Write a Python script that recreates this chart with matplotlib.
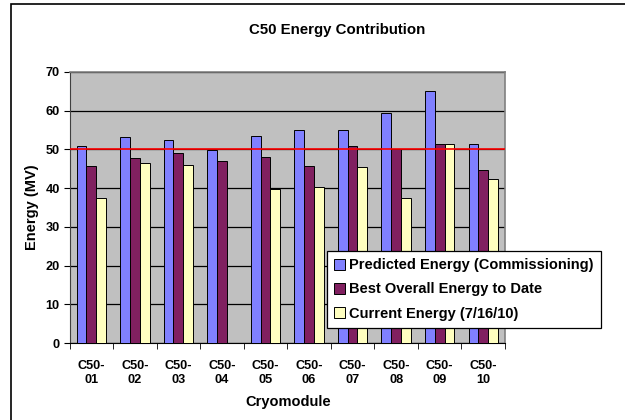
import numpy as np
import matplotlib
matplotlib.use("Agg")
import matplotlib.pyplot as plt
from matplotlib.patches import Rectangle

# Values
modules = ["C50-\n01", "C50-\n02", "C50-\n03", "C50-\n04", "C50-\n05",
           "C50-\n06", "C50-\n07", "C50-\n08", "C50-\n09", "C50-\n10"]
predicted = [51.0, 53.2, 52.4, 49.8, 53.5, 55.0, 55.0, 59.3, 65.2, 51.5]
best = [45.8, 47.9, 49.0, 46.9, 48.0, 45.7, 51.0, 50.0, 51.5, 44.6]
current = [37.5, 46.6, 46.1, 0.0, 39.7, 40.4, 45.4, 37.5, 51.5, 42.4]
series_names = ["Predicted Energy (Commissioning)",
                "Best Overall Energy to Date",
                "Current Energy (7/16/10)"]
target = 50

plt.rcParams['font.family'] = ['Liberation Sans', 'DejaVu Sans']
plt.rcParams['font.weight'] = 'bold'

fig = plt.figure(figsize=(6.25, 4.2), dpi=100)
ax = fig.add_axes([69.5 / 625, 1 - 343 / 420, 435.5 / 625, 271 / 420])
ax.set_facecolor('#C0C0C0')

x = np.arange(len(modules))
w = 0.225
colors = ['#8080FF', '#802060', '#FFFFC0']
for i, (vals, col, name) in enumerate(zip([predicted, best, current], colors, series_names)):
    ax.bar(x + (i - 1) * w, vals, width=w, color=col, edgecolor='black',
           linewidth=0.7, label=name, zorder=3)

ax.axhline(target, color='#FF0000', linewidth=1.2, zorder=4)

ax.set_xlim(-0.5, len(modules) - 0.5)
ax.set_ylim(0, 70)
ax.set_yticks(range(0, 71, 10))
ax.yaxis.grid(True, color='black', linewidth=0.9, zorder=1)
ax.set_axisbelow(True)

ax.set_xticks(x)
ax.set_xticklabels(modules, fontsize=9.2, fontweight='bold', linespacing=1.25)
ax.set_xticks(np.arange(-0.5, len(modules)), minor=True)
ax.tick_params(axis='x', which='major', length=0, pad=12)
ax.tick_params(axis='x', which='minor', length=4, color='black', direction='out')
ax.tick_params(axis='y', labelsize=9.2, length=4, color='black', pad=3)
for lab in ax.get_yticklabels():
    lab.set_fontweight('bold')

for side in ['top', 'right']:
    ax.spines[side].set_color('#808080')
    ax.spines[side].set_linewidth(1.2)
ax.spines['left'].set_color('#404040')
ax.spines['bottom'].set_color('black')

fig.text(337 / 625, 1 - 30 / 420, "C50 Energy Contribution", ha='center', va='center',
         fontsize=10.8, fontweight='bold')
fig.text(288 / 625, 1 - 402 / 420, "Cryomodule", ha='center', va='center',
         fontsize=10.5, fontweight='bold')
fig.text(32 / 625, 1 - 207 / 420, "Energy (MV)", ha='center', va='center',
         fontsize=10.5, fontweight='bold', rotation=90)

leg = ax.legend(loc='upper left', bbox_to_anchor=(327 / 625, 1 - 251 / 420),
                bbox_transform=fig.transFigure, borderaxespad=0, fancybox=False,
                framealpha=1, edgecolor='black', fontsize=10.5, labelspacing=0.7,
                handlelength=0.75, handleheight=0.75, handletextpad=0.25,
                borderpad=0.5)
leg.get_frame().set_linewidth(0.9)
for t in leg.get_texts():
    t.set_fontweight('bold')
leg.set_zorder(10)

# outer chart frame (right and bottom edges run off the picture)
fig.patches.append(Rectangle((11 / 625, -0.1), 1.2, 1 - 4 / 420 + 0.1,
                             transform=fig.transFigure, fill=False,
                             edgecolor='black', linewidth=1.2))

fig.savefig("out.png", dpi=100)
